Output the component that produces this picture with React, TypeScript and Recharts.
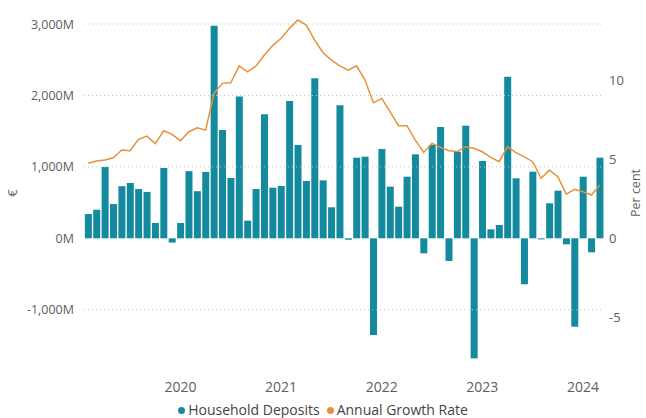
import {
  ComposedChart,
  Bar,
  Line,
  XAxis,
  YAxis,
  ReferenceLine,
  Legend,
} from 'recharts';

// monthly observations, Feb 2019 - Mar 2024
const months = [
  '2019-02', '2019-03', '2019-04', '2019-05', '2019-06', '2019-07', '2019-08', '2019-09', '2019-10', '2019-11', '2019-12',
  '2020-01', '2020-02', '2020-03', '2020-04', '2020-05', '2020-06', '2020-07', '2020-08', '2020-09', '2020-10', '2020-11', '2020-12',
  '2021-01', '2021-02', '2021-03', '2021-04', '2021-05', '2021-06', '2021-07', '2021-08', '2021-09', '2021-10', '2021-11', '2021-12',
  '2022-01', '2022-02', '2022-03', '2022-04', '2022-05', '2022-06', '2022-07', '2022-08', '2022-09', '2022-10', '2022-11', '2022-12',
  '2023-01', '2023-02', '2023-03', '2023-04', '2023-05', '2023-06', '2023-07', '2023-08', '2023-09', '2023-10', '2023-11', '2023-12',
  '2024-01', '2024-02', '2024-03',
];

// € million
const householdDeposits = [
  340, 400, 1000, 480, 730, 775, 690, 650, 215, 985, -60,
  215, 940, 660, 930, 2975, 1517, 845, 1985, 247, 690, 1737, 709,
  733, 1923, 1307, 803, 2240, 812, 434, 1863, -20, 1129, 1143, -1354,
  1250, 723, 443, 863, 1176, -210, 1307, 1559, -318, 1213, 1577, -1681,
  1083, 126, 186, 2263, 840, -644, 933, -15, 490, 667, -84, -1238,
  863, -196, 1129,
];

// per cent
const annualGrowthRate = [
  4.75, 4.89, 4.96, 5.1, 5.59, 5.55, 6.27, 6.47, 6.0, 6.81, 6.58,
  6.18, 6.75, 7.0, 6.85, 9.18, 9.81, 9.85, 10.92, 10.54, 10.9, 11.6, 12.2,
  12.66, 13.29, 13.82, 13.5, 12.55, 11.75, 11.28, 10.92, 10.65, 10.92, 10.02, 8.58,
  8.86, 8.01, 7.13, 7.13, 6.22, 5.44, 6.01, 5.76, 5.55, 5.5, 5.8, 5.7,
  5.48, 5.13, 4.85, 5.8, 5.42, 5.16, 4.85, 3.8, 4.32, 3.9, 2.8, 3.1,
  2.95, 2.74, 3.37,
];

const yearTicks = ['2020-01', '2021-01', '2022-01', '2023-01', '2024-01'];
const depositTicks = [-1000, 0, 1000, 2000, 3000];
const gridValues = [-1000, 1000, 2000, 3000];
const rateTicks = [-5, 0, 5, 10];

const BAR_COLOR = '#138a9e';
const LINE_COLOR = '#e8913a';
const TEXT_COLOR = '#605e5c';
const FONT = '"Open Sans", "Noto Sans", sans-serif';

const data = months.map((m, i) => ({
  month: m,
  deposits: householdDeposits[i],
  rate: annualGrowthRate[i],
}));

const renderLegend = () => (
  <div
    style={{
      display: 'flex',
      justifyContent: 'center',
      alignItems: 'center',
      height: 16,
      lineHeight: '16px',
      fontFamily: FONT,
      fontSize: 14,
      color: '#444',
      whiteSpace: 'nowrap',
    }}
  >
    <span style={{ width: 7, height: 7, borderRadius: '50%', background: BAR_COLOR, marginRight: 3 }} />
    <span style={{ marginRight: 7 }}>Household Deposits</span>
    <span style={{ width: 7, height: 7, borderRadius: '50%', background: LINE_COLOR, marginRight: 3 }} />
    <span>Annual Growth Rate</span>
  </div>
);

export default function App() {
  return (
    <div style={{ position: 'absolute', left: 0, top: 0, width: 646, height: 418, background: '#fff' }}>
      <ComposedChart
        width={646}
        height={418}
        data={data}
        margin={{ top: 14, right: 0, bottom: 0, left: 0 }}
        barCategoryGap="10%"
        accessibilityLayer={false}
        style={{ outline: 'none' }}
      >
        <XAxis
          dataKey="month"
          interval={0}
          height={30}
          stroke="none"
          tickLine={false}
          axisLine={false}
          tickSize={0}
          tickMargin={10}
          tick={{ fill: TEXT_COLOR, fontSize: 14, fontFamily: FONT }}
          tickFormatter={(v: string) => (yearTicks.includes(v) ? v.slice(0, 4) : '')}
        />
        <YAxis
          yAxisId="left"
          width={84}
          domain={[-1872, 3141]}
          allowDataOverflow
          stroke="none"
          ticks={depositTicks}
          tickLine={false}
          axisLine={false}
          tickSize={0}
          tickMargin={10}
          tick={{ fill: TEXT_COLOR, fontSize: 12.5, fontFamily: FONT }}
          tickFormatter={(v: number) => v.toLocaleString('en-US') + 'M'}
          label={{
            value: '€',
            angle: -90,
            position: 'insideLeft',
            offset: 12,
            textAnchor: 'middle',
            fill: TEXT_COLOR,
            fontSize: 13,
            fontFamily: FONT,
          }}
        />
        <YAxis
          yAxisId="right"
          orientation="right"
          width={42}
          domain={[-8.46, 14.2]}
          allowDataOverflow
          stroke="none"
          ticks={rateTicks}
          tickLine={false}
          axisLine={false}
          tickSize={0}
          tickMargin={5}
          tick={{ fill: TEXT_COLOR, fontSize: 13, fontFamily: FONT }}
          label={{
            value: 'Per cent',
            angle: -90,
            position: 'insideRight',
            offset: 10,
            textAnchor: 'middle',
            fill: TEXT_COLOR,
            fontSize: 12.5,
            fontFamily: FONT,
          }}
        />
        {gridValues.map((v) => (
          <ReferenceLine key={v} yAxisId="left" y={v} stroke="#c4c4c4" strokeDasharray="1 3" />
        ))}
        <Legend verticalAlign="bottom" height={16} content={renderLegend} />
        <Bar yAxisId="left" dataKey="deposits" name="Household Deposits" fill={BAR_COLOR} isAnimationActive={false} />
        <Line
          yAxisId="right"
          type="linear"
          dataKey="rate"
          name="Annual Growth Rate"
          stroke={LINE_COLOR}
          strokeWidth={1.5}
          dot={false}
          isAnimationActive={false}
        />
      </ComposedChart>
    </div>
  );
}
